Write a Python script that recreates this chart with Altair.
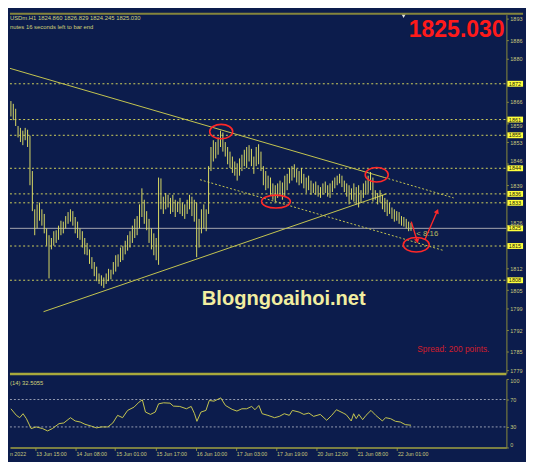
import altair as alt
import pandas as pd

# ---------------- data ----------------
# H1 bars: high / low prices, one per bar index
high = [1866.3, 1865.4, 1863.8, 1858.2, 1857.6, 1856.7, 1857.6, 1857.0, 1855.1, 1843.6,
        1831.2, 1832.8, 1833.4, 1831.2, 1829.7, 1825.0, 1822.8, 1821.9, 1824.1, 1824.4,
        1825.9, 1827.5, 1827.2, 1829.0, 1830.3, 1831.2, 1830.6, 1828.7, 1827.2, 1825.0,
        1824.1, 1821.9, 1820.3, 1818.2, 1815.7, 1814.1, 1812.6, 1810.4, 1809.8, 1809.1,
        1810.4, 1811.9, 1811.6, 1814.1, 1816.3, 1816.6, 1818.8, 1819.4, 1821.0, 1822.8,
        1824.1, 1825.9, 1828.1, 1829.0, 1832.8, 1838.0, 1834.3, 1830.6, 1828.1, 1825.0,
        1823.4, 1821.9, 1841.5, 1841.2, 1835.3, 1836.5, 1835.9, 1834.9, 1835.9, 1834.3,
        1833.7, 1834.9, 1833.4, 1832.8, 1834.3, 1835.9, 1835.3, 1834.3, 1833.4, 1828.1,
        1831.2, 1832.8, 1831.2, 1845.2, 1851.4, 1853.6, 1853.0, 1854.5, 1856.7, 1856.1,
        1853.0, 1851.4, 1849.9, 1848.3, 1846.7, 1846.1, 1847.7, 1848.9, 1850.5, 1851.4,
        1852.0, 1850.8, 1848.3, 1851.4, 1852.3, 1849.9, 1845.2, 1843.6, 1842.1, 1841.5,
        1839.6, 1839.0, 1839.6, 1840.5, 1839.9, 1842.1, 1842.7, 1844.6, 1845.2, 1845.8,
        1844.3, 1843.6, 1844.6, 1842.7, 1841.5, 1842.1, 1840.5, 1839.6, 1840.2, 1839.0,
        1838.4, 1839.6, 1840.2, 1839.0, 1839.6, 1840.5, 1841.5, 1842.1, 1842.7, 1842.1,
        1840.5, 1839.6, 1839.0, 1838.0, 1839.6, 1838.4, 1839.0, 1837.4, 1839.6, 1840.5,
        1842.1, 1843.3, 1841.5, 1837.4, 1836.5, 1837.4, 1835.9, 1834.9, 1834.3, 1833.4,
        1831.8, 1831.2, 1830.6, 1830.3, 1829.0, 1828.7, 1828.1, 1827.2, 1826.8]
low = [1861.3, 1860.1, 1858.2, 1854.5, 1853.0, 1852.0, 1853.6, 1851.4, 1839.0, 1830.6,
       1822.8, 1825.0, 1827.5, 1825.9, 1823.4, 1819.4, 1808.8, 1818.2, 1819.4, 1820.3,
       1821.3, 1822.8, 1823.4, 1825.0, 1826.5, 1827.2, 1825.9, 1823.4, 1821.9, 1821.3,
       1818.8, 1816.6, 1816.3, 1813.5, 1811.9, 1809.5, 1807.9, 1807.0, 1806.4, 1805.7,
       1807.0, 1807.9, 1808.5, 1810.1, 1811.0, 1812.6, 1814.1, 1814.7, 1816.6, 1817.8,
       1818.8, 1820.3, 1821.9, 1822.8, 1825.0, 1828.7, 1826.5, 1824.4, 1820.3, 1818.2,
       1816.3, 1814.7, 1813.2, 1831.2, 1829.7, 1831.2, 1831.8, 1829.7, 1830.3, 1828.7,
       1830.3, 1829.7, 1829.0, 1828.1, 1829.7, 1831.2, 1829.0, 1827.2, 1815.7, 1818.8,
       1823.4, 1825.0, 1824.1, 1829.7, 1843.6, 1846.7, 1847.7, 1848.9, 1851.4, 1849.9,
       1848.3, 1845.8, 1844.6, 1843.0, 1842.1, 1840.5, 1842.1, 1843.6, 1845.2, 1844.6,
       1846.7, 1845.2, 1842.7, 1845.2, 1845.8, 1843.6, 1839.0, 1837.4, 1838.0, 1835.9,
       1834.3, 1833.7, 1834.9, 1835.9, 1834.3, 1835.3, 1837.4, 1839.6, 1840.5, 1841.5,
       1839.9, 1839.0, 1839.6, 1838.0, 1836.5, 1837.4, 1835.9, 1836.5, 1835.9, 1835.3,
       1834.9, 1835.9, 1836.5, 1835.3, 1834.9, 1836.8, 1838.0, 1839.0, 1839.6, 1838.4,
       1836.8, 1835.3, 1832.8, 1834.3, 1833.7, 1832.8, 1831.8, 1833.4, 1834.9, 1835.9,
       1836.5, 1837.4, 1833.7, 1834.3, 1832.8, 1833.4, 1831.2, 1830.3, 1829.0, 1829.7,
       1828.1, 1827.2, 1827.5, 1826.5, 1825.9, 1825.6, 1825.0, 1824.1, 1824.2]
bar_idx = list(range(len(high)))

# RSI(14) points (bar index, value)
rsi_idx = [0, 2.3, 3.7, 5.1, 6.5, 8.5, 10.6, 13.3, 15.4, 17.4, 20.2, 22.2, 25, 27, 29.1,
           31.1, 33.9, 35.9, 38, 40.7, 42.8, 44.8, 46.9, 49, 51.7, 53.8, 55.2, 56.5, 58.6,
           60.6, 62, 64.1, 66.8, 68.2, 70.9, 73.7, 75.7, 77.1, 78.1, 79.8, 81.9, 83.3, 85.3,
           88.1, 90.1, 92.9, 94.9, 97, 99, 101.1, 102.5, 104.1, 105.5, 107.9, 110.7, 112.7,
           114.8, 116.9, 118.2, 121, 123, 125.1, 127.1, 129.9, 132.6, 134.7, 136.7, 139.5,
           140.8, 142.9, 143.9, 145, 146.1, 147.7, 149.1, 151.2, 153.2, 156, 157.3, 159.4,
           161.5, 163.5, 165.6, 168]
rsi_val = [56.5, 46.9, 43.5, 49.3, 42.1, 27.6, 30, 27.6, 24.2, 27.6, 34.8, 35.8, 43.5, 38.7,
           37.2, 33.9, 31, 28.6, 30, 30, 35.8, 46.9, 43.5, 54.1, 58.9, 66.2, 69.5, 51.7, 48.3,
           51.7, 63.7, 65.2, 64.7, 60.4, 59.9, 56.5, 59.9, 49.3, 38.2, 51.7, 54.1, 68.6, 67.6,
           72.4, 61.3, 55.6, 53.2, 56.5, 56.5, 59.9, 55.1, 61.3, 49.3, 46.9, 43.5, 45.4, 49.3,
           46.9, 54.1, 51.7, 48.3, 50.3, 45.4, 48.3, 39.7, 46.9, 55.1, 50.3, 47.9, 38.7, 49.3,
           42.1, 48.3, 40.6, 46.9, 54.1, 46.9, 38.7, 43.5, 42.1, 38.2, 37.2, 33.4, 32.5]
rsi_levels = [30, 70]
rsi_ticks = [0, 30, 70, 100]

# horizontal price lines and their labels
hline_price = [1871.9, 1860.3, 1855.2, 1844.5, 1836.2, 1833.3, 1819.3, 1808.2]
hline_label = ["1872", "1861", "1855", "1844", "1836", "1833", "1815", "1808"]
bid_price = [1825.03]
bid_label = ["1825"]

price_ticks = [1779, 1785, 1792, 1799, 1805, 1812, 1826, 1839, 1846, 1853,
               1859, 1866, 1880, 1886, 1893]

time_idx = [10.2, 27.1, 43.8, 60.7, 77.6, 94.4, 111.3, 128.3, 145.2, 162.1]
time_label = ["13 Jun 15:00", "14 Jun 08:00", "15 Jun 01:00", "15 Jun 17:00", "16 Jun 10:00",
              "17 Jun 03:00", "17 Jun 19:00", "20 Jun 12:00", "21 Jun 08:00", "22 Jun 01:00"]
first_date = "n 2022"

# trend lines (segment, bar index, price)
trend_solid_seg = ["upper", "upper", "rising", "rising"]
trend_solid_idx = [-0.4, 156.9, 13.7, 157.7]
trend_solid_price = [1876.9, 1841.5, 1798.0, 1836.2]
trend_dash_seg = ["upper_ext", "upper_ext", "lower", "lower"]
trend_dash_idx = [156.9, 185.9, 79.4, 181.9]
trend_dash_price = [1841.5, 1834.9, 1840.8, 1817.8]

# red ellipses (centre) and arrows
ell_idx = [88.3, 111.3, 153.6, 170.2]
ell_price = [1856.4, 1833.7, 1842.4, 1819.7]
arrow_seg = ["a1", "a1", "a2", "a2"]
arrow_idx = [168.1, 170.6, 173.8, 179.0]
arrow_price = [1827.2, 1820.9, 1821.3, 1830.6]

symbol_text = "USDm.H1  1824.860 1826.829 1824.245 1825.030"
timer_text = "nutes 16 seconds left to bar end"
big_price_text = "1825.030"
watermark_text = "Blogngoaihoi.net"
spread_text = "Spread: 200 points."
countdown_text = "< 8:16"
rsi_text = "(14) 32.5055"

# ---------------- styling ----------------
W, HM, HR = 507, 366, 70
BG = "#0c1c4c"
BAR = "#dcdc64"
HLC = "#d4d45c"
TREND = "#c8c850"
AXC = "#8c8c3c"
LAB = "#c8c87c"
BOX = "#ffff3c"
RED = "#ff2828"
FONT = "Liberation Sans"

XS = alt.Scale(domain=[-0.4, 208.06], nice=False, zero=False)
YS = alt.Scale(domain=[1778.1, 1894.3], nice=False, zero=False)
RS = alt.Scale(domain=[0, 100], nice=False, zero=False)

# labels partly hidden behind the price boxes peek out above / below them
price_label_baseline = {
    "condition": [
        {"test": "datum.value == 1826 || datum.value == 1846", "value": "bottom"},
        {"test": "datum.value == 1859", "value": "top"},
    ],
    "value": "middle",
}

YAX = alt.Axis(orient="right", values=price_ticks, format="d", title=None, grid=False,
               labelFont=FONT, labelFontSize=5.6, labelColor=LAB, labelPadding=1.5,
               labelBaseline=price_label_baseline,
               tickSize=2, tickColor=AXC, domainColor=AXC, domainWidth=1, labelOverlap=False)
RAX = alt.Axis(orient="right", values=rsi_ticks, format="d", title=None, grid=False,
               labelFont=FONT, labelFontSize=5.6, labelColor=LAB, labelPadding=1.5,
               tickSize=2, tickColor=AXC, domainColor=AXC, domainWidth=1,
               labelOverlap=False, labelFlush=True)
XAX = alt.Axis(values=time_idx, labels=False, title=None, grid=False, tickSize=3,
               tickColor=AXC, domainColor="#a0a040", domainWidth=1.5)


def one(text=""):
    return pd.DataFrame({"t": [text]})


def ellipse_path(a):
    k = 0.5523
    return (f"M1,0 C1,{a*k:.4f} {k},{a:.4f} 0,{a:.4f} C{-k},{a:.4f} -1,{a*k:.4f} -1,0 "
            f"C-1,{-a*k:.4f} {-k},{-a:.4f} 0,{-a:.4f} C{k},{-a:.4f} 1,{-a*k:.4f} 1,0 Z")


X = lambda f: alt.X(f, scale=XS, axis=None)
Y = lambda f: alt.Y(f, scale=YS, axis=YAX)

bars_df = pd.DataFrame({"idx": bar_idx, "high": high, "low": low})
hl_df = pd.DataFrame({"price": hline_price, "label": hline_label})
bid_df = pd.DataFrame({"price": bid_price, "label": bid_label})
box_df = pd.DataFrame({"price": hline_price + bid_price, "label": hline_label + bid_label})
ts_df = pd.DataFrame({"seg": trend_solid_seg, "idx": trend_solid_idx, "price": trend_solid_price})
td_df = pd.DataFrame({"seg": trend_dash_seg, "idx": trend_dash_idx, "price": trend_dash_price})
ell_df = pd.DataFrame({"idx": ell_idx, "price": ell_price})
arr_df = pd.DataFrame({"seg": arrow_seg, "idx": arrow_idx, "price": arrow_price})

layers = []
layers.append(alt.Chart(hl_df).mark_rule(color=HLC, strokeDash=[2, 2.5], strokeWidth=1).encode(
    y=Y("price:Q"), x=alt.value(0), x2=alt.value(W)))
layers.append(alt.Chart(bid_df).mark_rule(color="#a8a8b0", strokeWidth=1).encode(
    y=Y("price:Q"), x=alt.value(0), x2=alt.value(W)))
layers.append(alt.Chart(ts_df).mark_line(color=TREND, strokeWidth=1).encode(
    x=X("idx:Q"), y=Y("price:Q"), detail="seg:N"))
layers.append(alt.Chart(td_df).mark_line(color=TREND, strokeWidth=1, strokeDash=[2, 2]).encode(
    x=X("idx:Q"), y=Y("price:Q"), detail="seg:N"))
layers.append(alt.Chart(bars_df).mark_rule(color=BAR, strokeWidth=1).encode(
    x=X("idx:Q"), y=Y("low:Q"), y2="high:Q"))

# ellipses (width, height in px as drawn)
ell_style = [(23.5, 14.7), (29.4, 13.2), (23.5, 14.7), (26.5, 14.7)]
for i, (w, h) in enumerate(ell_style):
    layers.append(alt.Chart(ell_df.iloc[[i]]).mark_point(
        shape=ellipse_path(h / w), size=w * w, filled=False, stroke=RED, strokeWidth=1.6,
        opacity=1).encode(x=X("idx:Q"), y=Y("price:Q")))

layers.append(alt.Chart(arr_df).mark_line(color=RED, strokeWidth=1.4).encode(
    x=X("idx:Q"), y=Y("price:Q"), detail="seg:N"))
for i, ang in [(1, 166), (3, 24)]:
    layers.append(alt.Chart(arr_df.iloc[[i]]).mark_point(
        shape="triangle-up", size=30, filled=True, color=RED, angle=ang, opacity=1).encode(
        x=X("idx:Q"), y=Y("price:Q")))

# price-label boxes on the axis
layers.append(alt.Chart(box_df).mark_rule(color=BOX, strokeWidth=6).encode(
    y=Y("price:Q"), x=alt.value(W + 1), x2=alt.value(W + 17)))
layers.append(alt.Chart(box_df).mark_text(align="left", baseline="middle", font=FONT,
                                          fontSize=5.6, color="#202010").encode(
    y=Y("price:Q"), x=alt.value(W + 2.5), text="label:N"))


def txt(t, x, y, size, color, align="left", baseline="middle", weight="normal"):
    return alt.Chart(one(t)).mark_text(align=align, baseline=baseline, font=FONT,
                                        fontSize=size, color=color, fontWeight=weight).encode(
        x=alt.value(x), y=alt.value(y), text="t:N")


layers.append(txt(symbol_text, 0, 3.9, 6, "#d2d27a"))
layers.append(txt(timer_text, 0, 12.4, 6, "#d2d27a"))
layers.append(txt(big_price_text, 505.2, 22.5, 23.5, "#ff1a1a", align="right",
                  baseline="alphabetic", weight="bold"))
layers.append(txt(watermark_text, 279.6, 290.2, 20.5, "#f2eea0", align="center", weight="bold"))
layers.append(txt(spread_text, 416, 341.2, 8.5, "#d01c2c"))
layers.append(txt(countdown_text, 415, 223.8, 8, "#b8b860"))

layers.append(alt.Chart(one()).mark_point(shape="triangle-down", size=18, filled=True,
                                          color="#e0e0e0", opacity=1).encode(
    x=alt.value(402), y=alt.value(1.5)))
layers.append(alt.Chart(one()).mark_rule(color="#84843c", strokeWidth=2).encode(
    x=alt.value(0), x2=alt.value(W + 17), y=alt.value(-1)))
layers.append(alt.Chart(one()).mark_rule(color="#a8a83c", strokeWidth=2.5).encode(
    x=alt.value(0), x2=alt.value(W), y=alt.value(HM + 1)))

main = alt.layer(*layers).properties(width=W, height=HM)

# ---------------- RSI panel ----------------
rsi_df = pd.DataFrame({"idx": rsi_idx, "rsi": rsi_val})
lvl_df = pd.DataFrame({"lvl": rsi_levels})
tl_df = pd.DataFrame({"idx": time_idx, "label": time_label})

r_layers = [
    alt.Chart(lvl_df).mark_rule(color="#9aa0b4", strokeDash=[2, 2], strokeWidth=1).encode(
        y=alt.Y("lvl:Q", scale=RS, axis=RAX), x=alt.value(0), x2=alt.value(W)),
    alt.Chart(rsi_df).mark_line(color="#c8c850", strokeWidth=1).encode(
        x=alt.X("idx:Q", scale=XS, axis=XAX), y=alt.Y("rsi:Q", scale=RS, axis=RAX)),
    alt.Chart(tl_df).mark_text(align="left", baseline="middle", font=FONT, fontSize=5.4,
                               color=LAB, dx=1).encode(
        x=alt.X("idx:Q", scale=XS, axis=XAX), y=alt.value(HR + 7), text="label:N"),
    txt(first_date, 0, HR + 7, 5.4, LAB),
    txt(rsi_text, 0, 4.5, 6, "#d2d27a"),
]
rsi = alt.layer(*r_layers).properties(width=W, height=HR)

chart = (alt.vconcat(main, rsi, spacing=2)
         .properties(padding=0, background=BG)
         .configure_view(stroke=None, fill=BG))

chart.save("out.html", embed_options={"renderer": "svg", "actions": False})
